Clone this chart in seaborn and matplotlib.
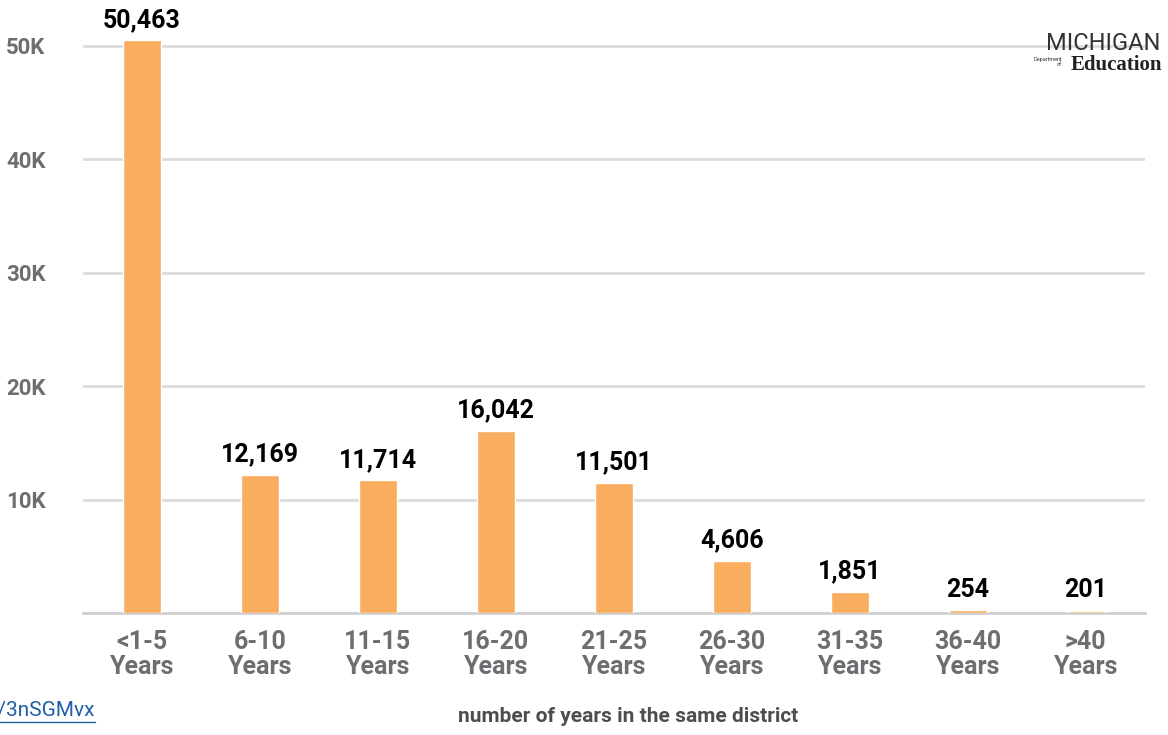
import matplotlib
matplotlib.use("Agg")
import matplotlib.pyplot as plt
import seaborn as sns
import pandas as pd

categories = ['<1-5\nYears', '6-10\nYears', '11-15\nYears', '16-20\nYears', '21-25\nYears',
              '26-30\nYears', '31-35\nYears', '36-40\nYears', '>40\nYears']
teachers = [50463, 12169, 11714, 16042, 11501, 4606, 1851, 254, 201]
yticks = [0, 10000, 20000, 30000, 40000, 50000]
ytick_labels = ['', '10K', '20K', '30K', '40K', '50K']

data = pd.DataFrame({'years': categories, 'count': teachers})

sns.set_style('white')
plt.rcParams['font.family'] = ['Roboto', 'DejaVu Sans']

fig = plt.figure(figsize=(11.68, 7.35), dpi=100)
ax = fig.add_axes([0.0711, 0.166, 0.9089, 0.8027])
sns.barplot(data=data, x='years', y='count', color='#F9AE5F', saturation=1,
            width=0.32, ax=ax, zorder=3)

ax.set_xlim(-0.5, 8.5)
ax.set_ylim(0, 52000)
ax.set_yticks(yticks)
ax.set_yticklabels(ytick_labels)
ax.yaxis.grid(True, color='#dcdcdc', linewidth=2, zorder=0)
ax.set_axisbelow(True)
for s in ['top', 'right', 'left']:
    ax.spines[s].set_visible(False)
ax.spines['bottom'].set_color('#d0d0d0')
ax.spines['bottom'].set_linewidth(2)
ax.tick_params(axis='y', length=0, pad=27, labelsize=16, labelcolor='#6d6e71')
ax.tick_params(axis='x', length=0, pad=12, labelsize=18, labelcolor='#6d6e71')
for lbl in ax.get_yticklabels():
    lbl.set_fontweight('bold')
for lbl in ax.get_xticklabels():
    lbl.set_fontweight('bold')
    lbl.set_linespacing(1.05)
ax.set_xlabel('')
ax.set_ylabel('')

for i, v in enumerate(teachers):
    ax.annotate(f'{v:,}', (i, v), xytext=(0, 6), textcoords='offset points',
                ha='center', va='bottom', fontsize=18, fontweight='bold', color='black')

fig.text(628 / 1168, 1 - 717 / 735, 'number of years in the same district',
         ha='center', va='center', fontsize=15, fontweight='bold', color='#4d4d4f')
fig.text(95 / 1168, 1 - 711 / 735, 'https://bit.ly/3nSGMvx', ha='right', va='center',
         fontsize=15, color='#1f5fa8')
fig.add_artist(plt.Line2D([0, 95 / 1168], [1 - 722 / 735] * 2, color='#1f5fa8', lw=1))

# logo
fig.text(1160 / 1168, 1 - 43 / 735, 'MICHIGAN', ha='right', va='center',
         fontsize=17, color='#333333')
fig.text(1162 / 1168, 1 - 65 / 735, 'Education', ha='right', va='center',
         fontsize=15, fontweight='bold', color='#222222', family=['Liberation Serif', 'DejaVu Serif'])
fig.text(1062 / 1168, 1 - 62 / 735, 'Department\nof', ha='right', va='center',
         fontsize=4, color='#333333', linespacing=1.0)

fig.savefig('out.png', dpi=100)
